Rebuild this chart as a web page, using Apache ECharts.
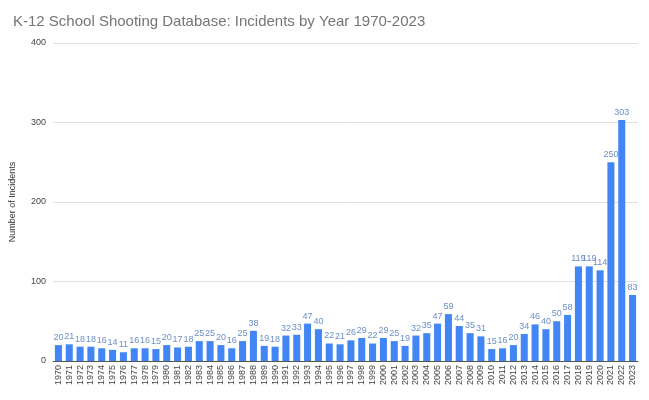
<!DOCTYPE html>
<html><head><meta charset="utf-8">
<script src="https://cdn.jsdelivr.net/npm/echarts@6/dist/echarts.min.js"></script>
<style>html,body{margin:0;padding:0;background:#fff}#c{width:649px;height:400px}</style>
</head><body><div id="c"></div>
<script>
const years = ['1970','1971','1972','1973','1974','1975','1976','1977','1978','1979','1980','1981','1982','1983','1984','1985','1986','1987','1988','1989','1990','1991','1992','1993','1994','1995','1996','1997','1998','1999','2000','2001','2002','2003','2004','2005','2006','2007','2008','2009','2010','2011','2012','2013','2014','2015','2016','2017','2018','2019','2020','2021','2022','2023'];
const incidents = [20,21,18,18,16,14,11,16,16,15,20,17,18,25,25,20,16,25,38,19,18,32,33,47,40,22,21,26,29,22,29,25,19,32,35,47,59,44,35,31,15,16,20,34,46,40,50,58,119,119,114,250,303,83];
const yTicks = [0,100,200,300,400];

const chart = echarts.init(document.getElementById('c'));
chart.setOption({
  animation:false,
  title:{text:'K-12 School Shooting Database: Incidents by Year 1970-2023',left:8,top:9,
    textStyle:{fontFamily:'Liberation Sans, Arial, sans-serif',fontSize:15,fontWeight:'normal',color:'#757575'}},
  grid:{left:53,right:11,top:43,bottom:39},
  xAxis:{type:'category',data:years,
    axisLine:{lineStyle:{color:'#555'}},axisTick:{show:false},
    axisLabel:{interval:0,rotate:90,fontSize:9,color:'#444',fontFamily:'Liberation Sans, Arial, sans-serif',margin:4}},
  yAxis:{type:'value',min:0,max:400,interval:100,
    name:'Number of Incidents',nameLocation:'middle',nameGap:36,nameRotate:90,
    nameTextStyle:{fontSize:9,color:'#333',fontFamily:'Liberation Sans, Arial, sans-serif'},
    axisLabel:{fontSize:9,color:'#444',fontFamily:'Liberation Sans, Arial, sans-serif',margin:7,
      formatter:v=>yTicks.includes(v)?String(v):''},
    splitLine:{lineStyle:{color:'#e0e0e0'}},axisLine:{show:false},axisTick:{show:false}},
  series:[{type:'bar',data:incidents,barCategoryGap:'35%',
    itemStyle:{color:'#4285f4'},
    label:{show:true,position:'top',fontSize:9,color:'#6b8fc7',distance:3,
      fontFamily:'Liberation Sans, Arial, sans-serif'}}]
});
</script></body></html>
